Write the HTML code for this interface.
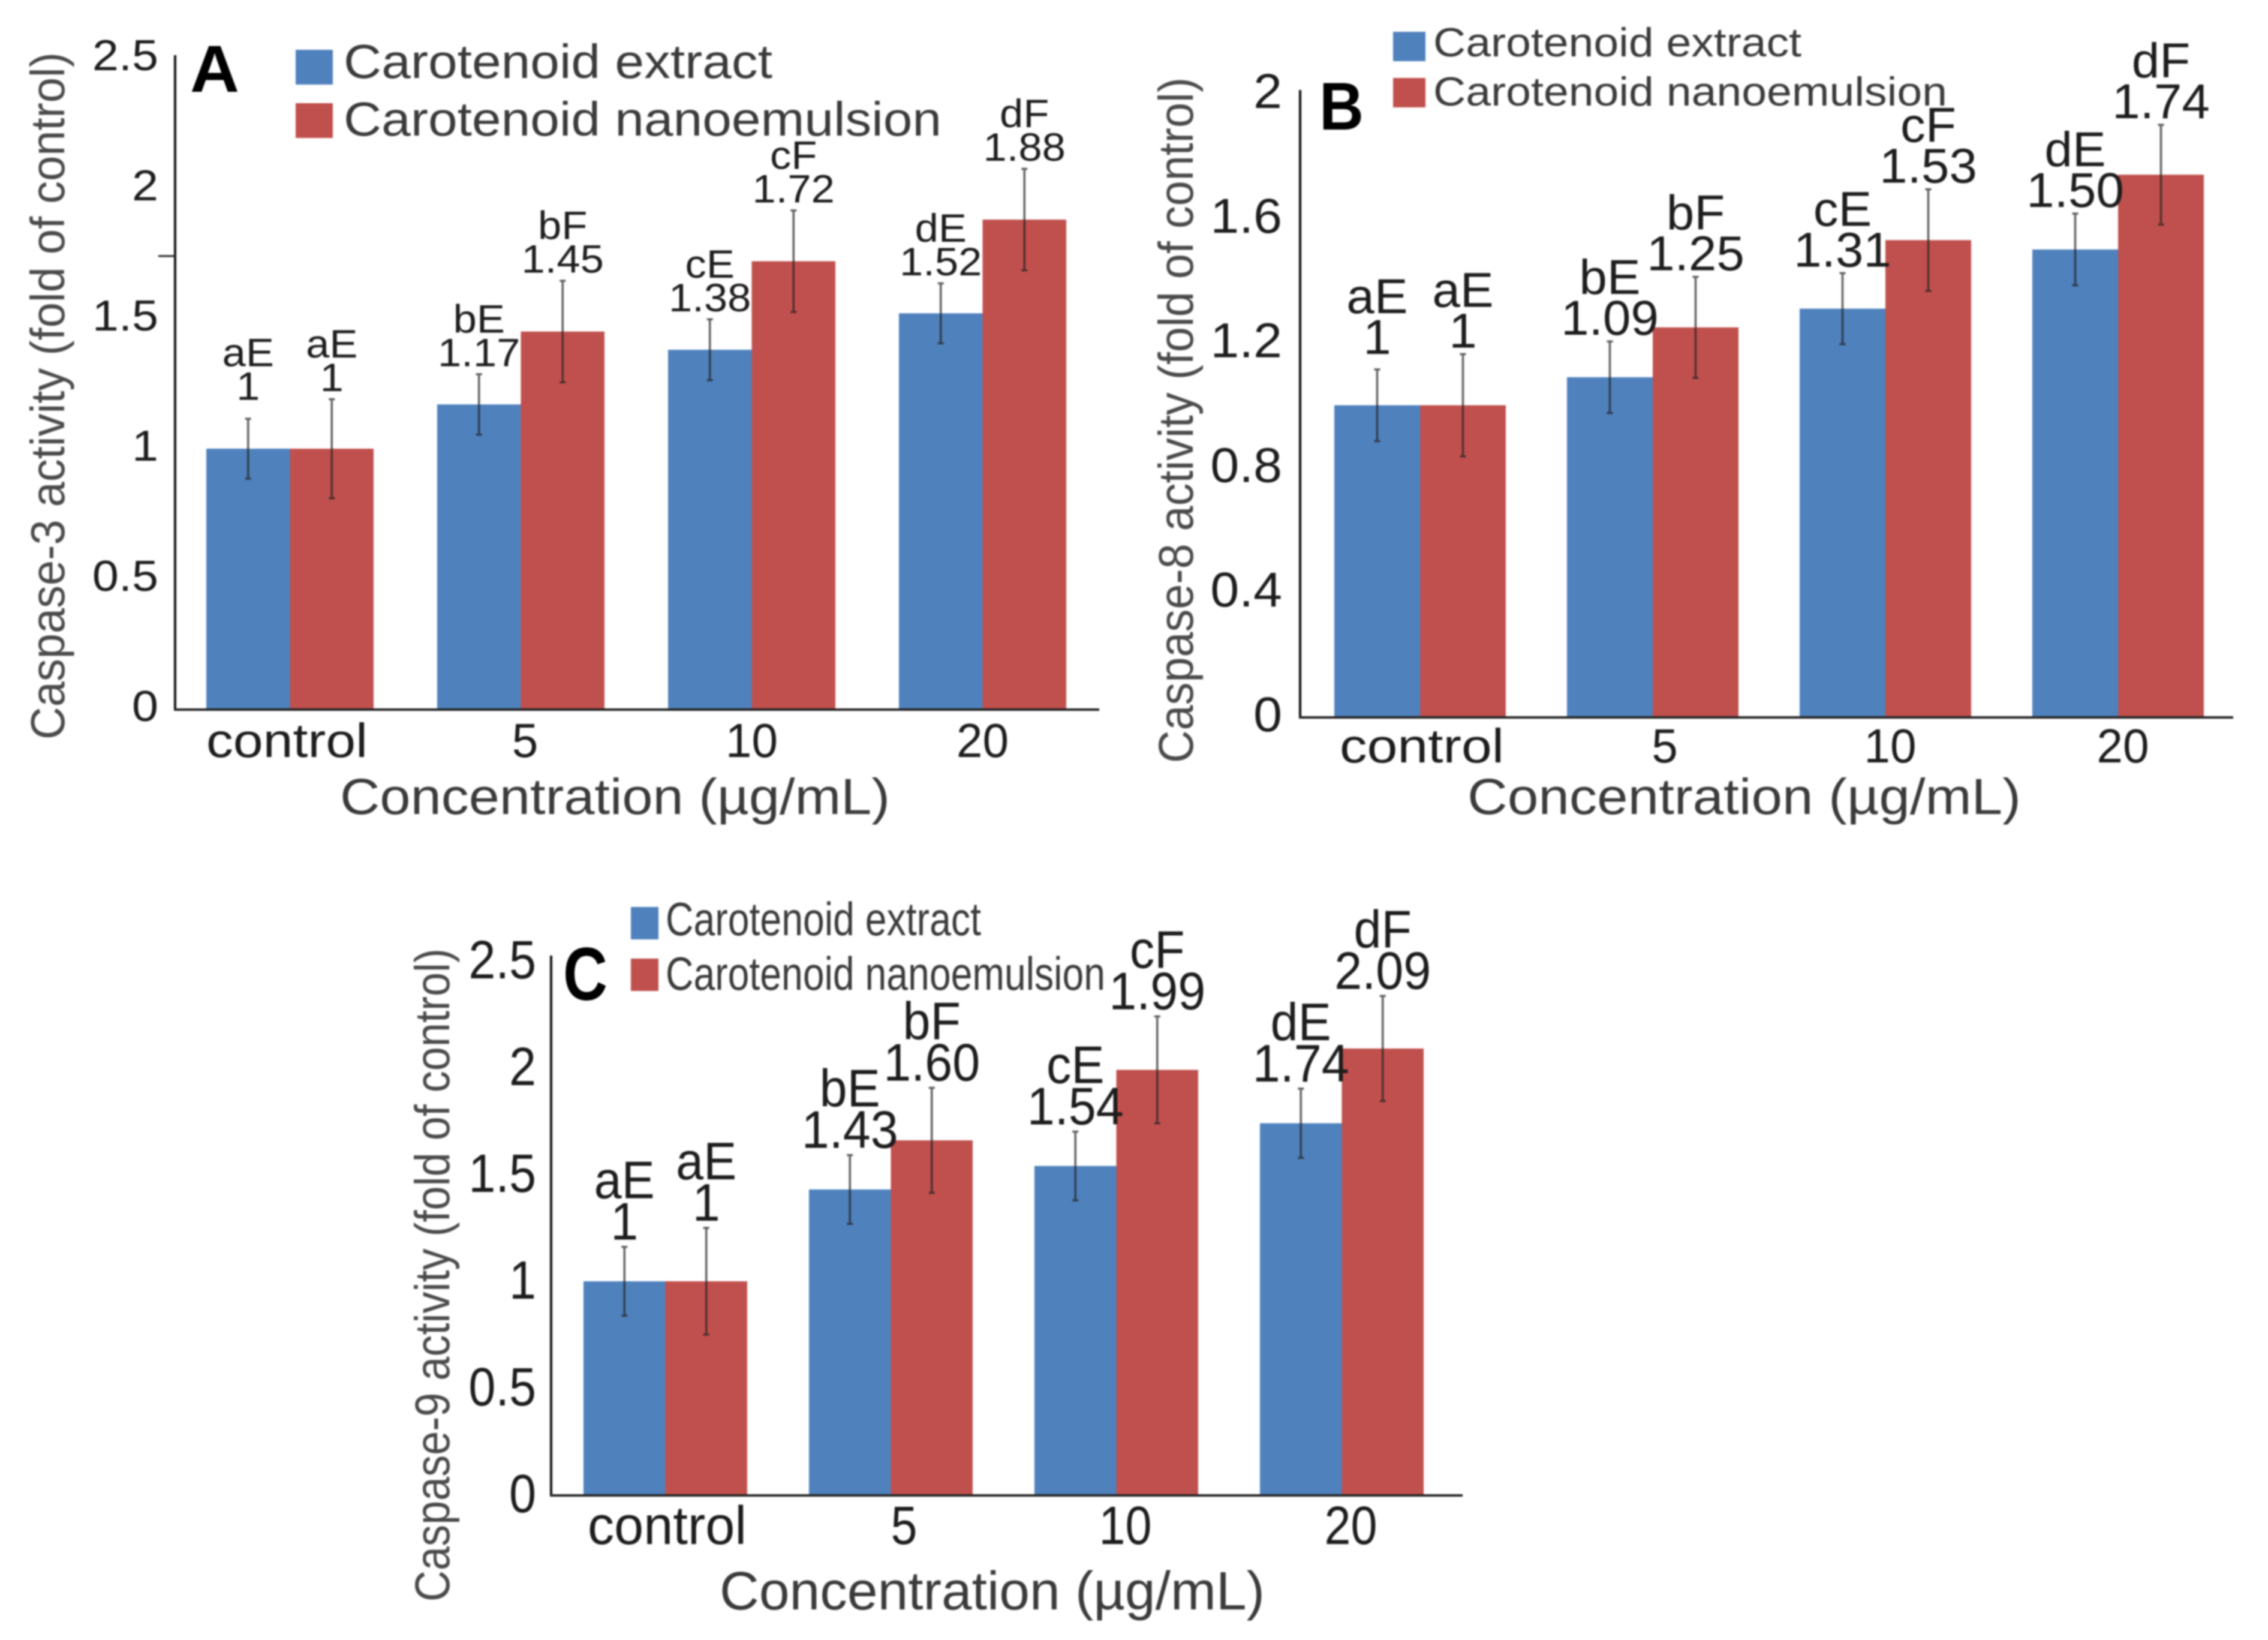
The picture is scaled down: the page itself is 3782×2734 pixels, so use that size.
<!DOCTYPE html>
<html lang="en">
<head>
<meta charset="utf-8">
<title>Caspase activity charts</title>
<style>
html,body{margin:0;padding:0;background:#fff;width:3782px;height:2734px;overflow:hidden}
svg{display:block;filter:blur(1.4px)}
text{font-family:"Liberation Sans",sans-serif}
</style>
</head>
<body>
<svg id="figure" xmlns="http://www.w3.org/2000/svg" width="3782" height="2734" viewBox="0 0 3782 2734"></svg>
<script>
const categories = ['control', '5', '10', '20'];
const seriesNames = ['Carotenoid extract', 'Carotenoid nanoemulsion'];

const caspase3Extract = [1, 1.17, 1.38, 1.52];
const caspase3Nano = [1, 1.45, 1.72, 1.88];
const caspase3ExtractErr = [0.115, 0.116, 0.117, 0.115];
const caspase3NanoErr = [0.19, 0.195, 0.195, 0.195];
const caspase3ExtractPrinted = ['1', '1.17', '1.38', '1.52'];
const caspase3NanoPrinted = ['1', '1.45', '1.72', '1.88'];
const caspase3Ticks = [0, 0.5, 1, 1.5, 2, 2.5];

const caspase8Extract = [1, 1.09, 1.31, 1.50];
const caspase8Nano = [1, 1.25, 1.53, 1.74];
const caspase8ExtractErr = [0.115, 0.115, 0.114, 0.115];
const caspase8NanoErr = [0.164, 0.162, 0.163, 0.16];
const caspase8ExtractPrinted = ['1', '1.09', '1.31', '1.50'];
const caspase8NanoPrinted = ['1', '1.25', '1.53', '1.74'];
const caspase8Ticks = [0, 0.4, 0.8, 1.2, 1.6, 2];

const caspase9Extract = [1, 1.43, 1.54, 1.74];
const caspase9Nano = [1, 1.66, 1.99, 2.09];
const caspase9ExtractErr = [0.161, 0.161, 0.161, 0.162];
const caspase9NanoErr = [0.25, 0.246, 0.25, 0.246];
const caspase9ExtractPrinted = ['1', '1.43', '1.54', '1.74'];
const caspase9NanoPrinted = ['1', '1.60', '1.99', '2.09'];
const caspase9Ticks = [0, 0.5, 1, 1.5, 2, 2.5];

const extractLetters = ['aE', 'bE', 'cE', 'dE'];
const nanoLetters = ['aE', 'bF', 'cF', 'dF'];

const BLUE = '#4F81BD';
const RED = '#C0504D';
const SVGNS = 'http://www.w3.org/2000/svg';
const figure = document.getElementById('figure');

function mk(tag, attrs, parent) {
  const el = document.createElementNS(SVGNS, tag);
  for (const k in attrs) el.setAttribute(k, attrs[k]);
  parent.appendChild(el);
  return el;
}

function label(parent, str, x, y, size, opts) {
  const o = opts || {};
  const attrs = {
    'font-size': size,
    'fill': o.fill || '#1c1c1c',
    'text-anchor': o.anchor || 'start'
  };
  if (o.bold) attrs['font-weight'] = 'bold';
  if (o.width) {
    attrs['textLength'] = o.width;
    attrs['lengthAdjust'] = 'spacingAndGlyphs';
  }
  if (o.rotate) {
    attrs['transform'] = 'translate(' + x + ',' + y + ') rotate(-90)';
  } else {
    attrs['transform'] = 'translate(' + x + ',' + y + ') scale(' + (o.sx || 1) + ',1)';
  }
  const t = mk('text', attrs, parent);
  t.textContent = str;
  return t;
}

function drawPanel(p) {
  const g = mk('g', {}, figure);
  
  

  const yScale = v => p.y0 - v * p.unit;
  const barX = (i, s) => p.firstBar + i * p.pitch + s * p.barW;
  const groupCenter = i => p.firstBar + i * p.pitch + p.barW;

  /* bars */
  [[p.extract, BLUE, 'extract'], [p.nano, RED, 'nanoemulsion']].forEach((series, s) => {
    series[0].forEach((v, i) => {
      const bar = mk('rect', {
        x: barX(i, s),
        y: yScale(v),
        width: p.barW,
        height: p.y0 - yScale(v),
        fill: series[1]
      }, g);
      
      
    });
  });

  /* error bars and value labels */
  [[p.extract, p.extractErr, p.extractPrinted, extractLetters, 'extract'],
   [p.nano, p.nanoErr, p.nanoPrinted, nanoLetters, 'nanoemulsion']].forEach((series, s) => {
    series[0].forEach((v, i) => {
      const cx = barX(i, s) + p.barW / 2;
      const hi = yScale(v + series[1][i]);
      const lo = yScale(v - series[1][i]);
      const stem = mk('path', {
        d: 'M' + cx + ' ' + hi + 'V' + lo + 'M' + (cx - 5) + ' ' + hi + 'H' + (cx + 5) + 'M' + (cx - 5) + ' ' + lo + 'H' + (cx + 5),
        stroke: '#222',
        'stroke-opacity': 0.72,
        'stroke-width': 3.5,
        fill: 'none'
      }, g);
      
      

      const lift = (i === 0 && s === 0) ? p.controlLift : 0;
      const valueText = label(g, series[2][i], cx, hi - p.valueGap - lift, p.valueSize, { anchor: 'middle', sx: p.valueSx });
      
      

      const letterText = label(g, series[3][i], cx, hi - p.valueGap - lift - p.letterGap, p.valueSize, { anchor: 'middle', sx: p.valueSx });
      
      
    });
  });

  /* axes */
  const yAxis = mk('line', { x1: p.axisX, x2: p.axisX, y1: p.axisTop, y2: p.y0 + 2, stroke: '#111', 'stroke-width': 4 }, g);
  
  
  const xAxis = mk('line', { x1: p.axisX - 2, x2: p.axisRight, y1: p.y0 + 1, y2: p.y0 + 1, stroke: '#222', 'stroke-width': 4 }, g);
  
  

  if (p.strayTick) {
    const tick = mk('line', { x1: p.axisX - 28, x2: p.axisX, y1: yScale(p.strayTick), y2: yScale(p.strayTick), stroke: '#222', 'stroke-width': 3 }, g);
    
    
  }

  p.ticks.forEach(v => {
    const t = label(g, String(v), p.tickRight, yScale(v) + p.tickDrop, p.tickSize, { anchor: 'end', sx: p.tickSx });
    
    
  });

  categories.forEach((c, i) => {
    const opts = { anchor: 'middle' };
    let nudge = p.catNudge;
    if (c === 'control') {
      opts.width = p.controlWidth;
      nudge += p.controlNudge;
    } else {
      opts.sx = p.catSx;
    }
    if (c === '5') nudge += p.fiveNudge;
    const t = label(g, c, groupCenter(i) + nudge, p.catBase, p.catSize, opts);
    
    
  });

  const yTitle = label(g, p.yTitle, p.yTitleX, p.yTitleBottom, p.yTitleSize, { rotate: true, width: p.yTitleLen, fill: '#4a4a4a' });
  
  

  const xTitle = label(g, 'Concentration (µg/mL)', p.xTitleX, p.xTitleBase, p.xTitleSize, { width: p.xTitleLen, fill: '#3a3a3a' });
  
  

  const letter = label(g, p.letter, p.letterX, p.letterBase, p.letterSize, { bold: true, width: p.letterW, fill: '#000' });
  
  

  /* legend */
  const swatchE = mk('rect', { x: p.swX, y: p.swY1, width: p.swW, height: p.swH, fill: BLUE }, g);
  
  
  const swatchN = mk('rect', { x: p.swX, y: p.swY2, width: p.swW, height: p.swH, fill: RED }, g);
  
  
  const legE = label(g, seriesNames[0], p.legX, p.legBase1, p.legSize, { width: p.legW1, fill: '#3a3a3a' });
  
  
  const legN = label(g, seriesNames[1], p.legX, p.legBase2, p.legSize, { width: p.legW2, fill: '#3a3a3a' });
  
  
}

drawPanel({
  letter: 'A', extract: caspase3Extract, nano: caspase3Nano,
  extractErr: caspase3ExtractErr, nanoErr: caspase3NanoErr,
  extractPrinted: caspase3ExtractPrinted, nanoPrinted: caspase3NanoPrinted,
  ticks: caspase3Ticks, strayTick: 1.74,
  y0: 1182, unit: 434, firstBar: 344, pitch: 385, barW: 139.5,
  axisX: 292, axisTop: 92, axisRight: 1833,
  valueGap: 13.5, letterGap: 56, valueSize: 66, valueSx: 1.07, controlLift: 18,
  tickRight: 264, tickDrop: 20, tickSize: 72, tickSx: 1.1,
  catNudge: 0, controlNudge: -5, fiveNudge: 7, catBase: 1262, catSize: 80, catSx: 0.98, controlWidth: 269,
  yTitle: 'Caspase-3 activity (fold of control)', yTitleX: 107, yTitleBottom: 1233, yTitleSize: 80, yTitleLen: 1146,
  xTitleX: 567, xTitleBase: 1357, xTitleSize: 84, xTitleLen: 917,
  letterX: 317, letterBase: 153, letterSize: 110, letterW: 82,
  swX: 493, swY1: 83, swY2: 172, swW: 62, swH: 58,
  legX: 573, legBase1: 130, legBase2: 226, legSize: 80, legW1: 715, legW2: 997
});

drawPanel({
  letter: 'B', extract: caspase8Extract, nano: caspase8Nano,
  extractErr: caspase8ExtractErr, nanoErr: caspase8NanoErr,
  extractPrinted: caspase8ExtractPrinted, nanoPrinted: caspase8NanoPrinted,
  ticks: caspase8Ticks, strayTick: 0,
  y0: 1195, unit: 519.4, firstBar: 2225, pitch: 388, barW: 143,
  axisX: 2168, axisTop: 150, axisRight: 3724,
  valueGap: 11, letterGap: 68, valueSize: 82, valueSx: 1.02, controlLift: 15,
  tickRight: 2138, tickDrop: 24, tickSize: 82, tickSx: 1.05,
  catNudge: 8, controlNudge: -5, fiveNudge: 12, catBase: 1271, catSize: 80, catSx: 0.98, controlWidth: 274,
  yTitle: 'Caspase-8 activity (fold of control)', yTitleX: 1989, yTitleBottom: 1272, yTitleSize: 82, yTitleLen: 1143,
  xTitleX: 2447, xTitleBase: 1357, xTitleSize: 84, xTitleLen: 923,
  letterX: 2200, letterBase: 216, letterSize: 112, letterW: 74,
  swX: 2323, swY1: 53, swY2: 130, swW: 54, swH: 49,
  legX: 2390, legBase1: 94, legBase2: 176, legSize: 68, legW1: 614, legW2: 857
});

drawPanel({
  letter: 'C', extract: caspase9Extract, nano: caspase9Nano,
  extractErr: caspase9ExtractErr, nanoErr: caspase9NanoErr,
  extractPrinted: caspase9ExtractPrinted, nanoPrinted: caspase9NanoPrinted,
  ticks: caspase9Ticks, strayTick: 0,
  y0: 2492, unit: 356, firstBar: 973, pitch: 376, barW: 136.5,
  axisX: 919, axisTop: 1593, axisRight: 2439,
  valueGap: 12, letterGap: 69, valueSize: 88, valueSx: 0.94, controlLift: 0,
  tickRight: 894, tickDrop: 29, tickSize: 90, tickSx: 0.9,
  catNudge: 15, controlNudge: -12, fiveNudge: 7, catBase: 2574, catSize: 90, catSx: 0.88, controlWidth: 265,
  yTitle: 'Caspase-9 activity (fold of control)', yTitleX: 749, yTitleBottom: 2670, yTitleSize: 82, yTitleLen: 1089,
  xTitleX: 1200, xTitleBase: 2683, xTitleSize: 90, xTitleLen: 909,
  letterX: 939, letterBase: 1667, letterSize: 125, letterW: 74,
  swX: 1052, swY1: 1512, swY2: 1598, swW: 46, swH: 54,
  legX: 1110, legBase1: 1559, legBase2: 1650, legSize: 78, legW1: 526, legW2: 733
});
</script>
</body>
</html>
